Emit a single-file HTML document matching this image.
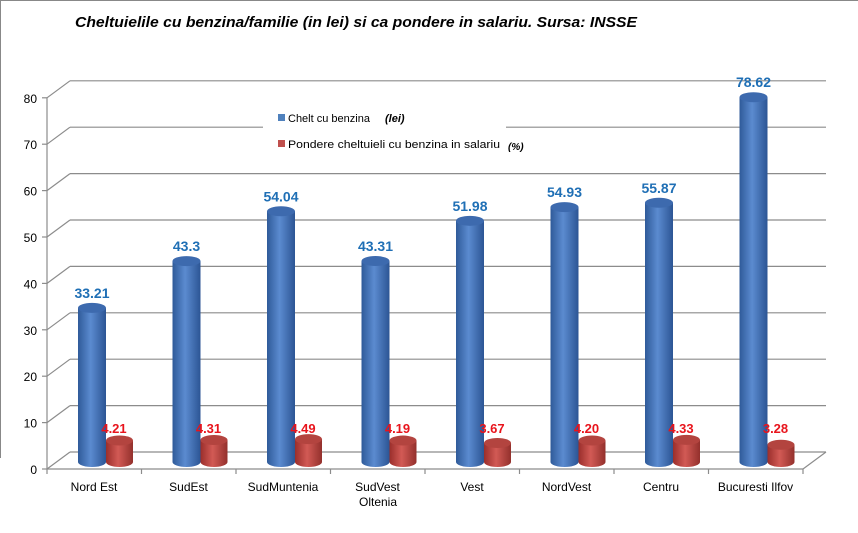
<!DOCTYPE html>
<html><head><meta charset="utf-8"><style>
html,body{margin:0;padding:0;background:#fff;}
svg{display:block;font-family:"Liberation Sans",sans-serif;}
</style></head><body>
<svg width="858" height="533" viewBox="0 0 858 533" xmlns="http://www.w3.org/2000/svg">
<defs>
<linearGradient id="gb" x1="0" x2="1" y1="0" y2="0">
<stop offset="0" stop-color="#2f5a99"/><stop offset="0.45" stop-color="#5b8bd0"/><stop offset="1" stop-color="#2c5594"/></linearGradient>
<linearGradient id="gr" x1="0" x2="1" y1="0" y2="0">
<stop offset="0" stop-color="#9a2e2b"/><stop offset="0.45" stop-color="#d25a55"/><stop offset="1" stop-color="#93302c"/></linearGradient>
</defs>
<rect width="858" height="533" fill="#fff"/>
<line x1="0" y1="0.5" x2="858" y2="0.5" stroke="#888"/>
<line x1="0.5" y1="0" x2="0.5" y2="458" stroke="#888"/>
<text x="75" y="27" font-size="14.5" font-weight="bold" font-style="italic" textLength="562" lengthAdjust="spacingAndGlyphs">Cheltuielile cu benzina/familie (in lei) si ca pondere in salariu. Sursa: INSSE</text>
<g stroke="#8c8c8c" stroke-width="1.2" fill="none" id="grid"></g>
<g id="bars"></g>
<rect x="263" y="100" width="243" height="60" fill="#fff"/>
<rect x="278" y="114" width="7" height="7" fill="#4f81bd"/>
<text x="288" y="122" font-size="11">Chelt cu benzina</text>
<text x="385" y="122" font-size="11" font-weight="bold" font-style="italic">(lei)</text>
<rect x="278" y="140" width="7" height="7" fill="#c0504d"/>
<text x="288" y="148" font-size="11" textLength="212" lengthAdjust="spacingAndGlyphs">Pondere cheltuieli cu benzina in salariu</text>
<text x="508" y="150" font-size="10" font-weight="bold" font-style="italic">(%)</text>
<g id="ax" font-size="12" fill="#000"></g>
</svg>
<script>
var NS="http://www.w3.org/2000/svg";
function el(p,t,a,txt){var e=document.createElementNS(NS,t);for(var k in a)e.setAttribute(k,a[k]);if(txt!==undefined)e.textContent=txt;p.appendChild(e);return e;}
var g=document.getElementById('grid'),ax=document.getElementById('ax'),bars=document.getElementById('bars');
var S=4.64;
for(var v=0;v<=80;v+=10){var by=452-S*v,fy=by+17;
el(g,'line',{x1:70,y1:by,x2:826,y2:by});
el(g,'line',{x1:47,y1:fy,x2:70,y2:by});
el(g,'line',{x1:42,y1:fy,x2:47,y2:fy});
el(ax,'text',{x:37,y:fy+5,'text-anchor':'end'},String(v));}
el(g,'line',{x1:47,y1:98,x2:47,y2:469});
el(g,'line',{x1:47,y1:469,x2:803,y2:469});
el(g,'line',{x1:803,y1:469,x2:826,y2:452});
for(var i=0;i<=8;i++){var x=47+i*94.5;el(g,'line',{x1:x,y1:469,x2:x,y2:474});}
var cats=["Nord Est","SudEst","SudMuntenia","SudVest","Vest","NordVest","Centru","Bucuresti Ilfov"];
var B=[33.21,43.3,54.04,43.31,51.98,54.93,55.87,78.62],R=[4.21,4.31,4.49,4.19,3.67,4.20,4.33,3.28];
var BL=["33.21","43.3","54.04","43.31","51.98","54.93","55.87","78.62"],RL=["4.21","4.31","4.49","4.19","3.67","4.20","4.33","3.28"];
function cyl(x,w,top,grad,cap){var base=462,r=w/2;
el(bars,'path',{d:'M'+x+','+top+' L'+x+','+base+' A'+r+',5 0 0 0 '+(x+w)+','+base+' L'+(x+w)+','+top+' Z',fill:'url(#'+grad+')'});
el(bars,'ellipse',{cx:x+r,cy:top,rx:r,ry:5,fill:cap});}
for(var i=0;i<8;i++){var bx=78+i*94.5,rx=bx+28;
var bt=462-B[i]*S,rt=462-R[i]*S-2;
cyl(bx,28,bt,'gb','#3d6aae');
cyl(rx,27,rt,'gr','#b3443f');
el(bars,'text',{x:bx+14,y:bt-10,'text-anchor':'middle','font-size':14,'font-weight':'bold',fill:'#1f6fb5'},BL[i]);
el(bars,'text',{x:rx+8,y:433,'text-anchor':'middle','font-size':13,'font-weight':'bold',fill:'#e8141c'},RL[i]);
var cx=94+i*94.5;
el(ax,'text',{x:cx,y:491,'text-anchor':'middle'},cats[i]);}
el(ax,'text',{x:378,y:506,'text-anchor':'middle'},"Oltenia");
</script>
</body></html>
